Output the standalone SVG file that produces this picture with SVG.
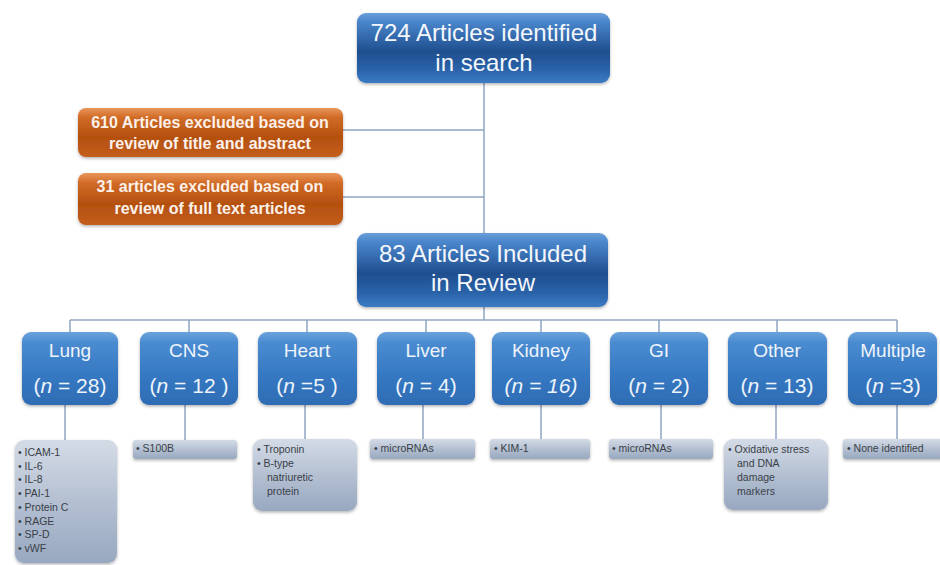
<svg xmlns="http://www.w3.org/2000/svg" width="940" height="565" viewBox="0 0 940 565">
<defs>
<linearGradient id="gMain" x1="0" y1="0" x2="0" y2="1">
<stop offset="0" stop-color="#6a9fd8"/>
<stop offset="0.12" stop-color="#4a86cc"/>
<stop offset="0.55" stop-color="#1f4f8f"/>
<stop offset="0.8" stop-color="#2a62a8"/>
<stop offset="1" stop-color="#3b7bc4"/>
</linearGradient>
<linearGradient id="gCat" x1="0" y1="0" x2="0" y2="1">
<stop offset="0" stop-color="#6aa3dc"/>
<stop offset="0.15" stop-color="#4a8bd0"/>
<stop offset="0.6" stop-color="#3578c2"/>
<stop offset="1" stop-color="#2e6cb4"/>
</linearGradient>
<linearGradient id="gOr" x1="0" y1="0" x2="0" y2="1">
<stop offset="0" stop-color="#e9955a"/>
<stop offset="0.2" stop-color="#d06a25"/>
<stop offset="0.6" stop-color="#b4500f"/>
<stop offset="1" stop-color="#c45e1c"/>
</linearGradient>
<linearGradient id="gDet" x1="0" y1="0" x2="0" y2="1">
<stop offset="0" stop-color="#d4dbe6"/>
<stop offset="0.5" stop-color="#b4c0d2"/>
<stop offset="1" stop-color="#98a8c0"/>
</linearGradient>
<filter id="sh" x="-10%" y="-10%" width="120%" height="130%">
<feDropShadow dx="0" dy="1.5" stdDeviation="1.5" flood-color="#000" flood-opacity="0.3"/>
</filter>
</defs>
<style>
.main{fill:url(#gMain);filter:url(#sh)}
.cat{fill:url(#gCat);filter:url(#sh)}
.or{fill:url(#gOr);filter:url(#sh)}
.det{fill:url(#gDet);filter:url(#sh)}
.conn line{stroke:#8fa5c2;stroke-width:1.5}
text{font-family:"Liberation Sans",Arial,sans-serif}
.tm{fill:#f4f7fb;font-size:24px;text-anchor:middle}
.to{fill:#fbf1ea;font-size:16px;font-weight:bold;text-anchor:middle}
.tc{fill:#eef4fb;font-size:19px;text-anchor:middle}
.tn{fill:#eef4fb;font-size:21px;text-anchor:middle}
.td{fill:#3a3f48;font-size:10.5px}
</style>
<rect width="940" height="565" fill="#ffffff"/>
<g id="connectors" class="conn">
<line x1="484" y1="83" x2="484" y2="233"/>
<line x1="343" y1="130" x2="484" y2="130"/>
<line x1="343" y1="197" x2="484" y2="197"/>
<line x1="484" y1="307" x2="484" y2="320"/>
<line x1="70" y1="320" x2="897" y2="320"/>
<line x1="70" y1="320" x2="70" y2="332"/>
<line x1="189" y1="320" x2="189" y2="332"/>
<line x1="307" y1="320" x2="307" y2="332"/>
<line x1="426" y1="320" x2="426" y2="332"/>
<line x1="541" y1="320" x2="541" y2="332"/>
<line x1="659" y1="320" x2="659" y2="332"/>
<line x1="777" y1="320" x2="777" y2="332"/>
<line x1="897" y1="320" x2="897" y2="332"/>
<line x1="65" y1="405" x2="65" y2="440"/>
<line x1="185" y1="405" x2="185" y2="440"/>
<line x1="305" y1="405" x2="305" y2="439"/>
<line x1="423" y1="405" x2="423" y2="439"/>
<line x1="541" y1="405" x2="541" y2="439"/>
<line x1="661" y1="405" x2="661" y2="439"/>
<line x1="776" y1="405" x2="776" y2="439"/>
<line x1="897" y1="405" x2="897" y2="439"/>
</g>
<g id="n724">
<rect class="main" x="357" y="13" width="253" height="70" rx="9"/>
<text class="tm" x="484" y="41">724 Articles identified</text>
<text class="tm" x="484" y="71">in search</text>
</g>
<g id="ex610">
<rect class="or" x="78" y="108" width="265" height="49" rx="8"/>
<text class="to" x="210" y="128">610 Articles excluded based on</text>
<text class="to" x="210" y="149">review of title and abstract</text>
</g>
<g id="ex31">
<rect class="or" x="78" y="173" width="265" height="52" rx="8"/>
<text class="to" x="210" y="192">31 articles excluded based on</text>
<text class="to" x="210" y="214">review of full text articles</text>
</g>
<g id="n83">
<rect class="main" x="357" y="233" width="251" height="74" rx="9"/>
<text class="tm" x="483" y="262">83 Articles Included</text>
<text class="tm" x="483" y="291">in Review</text>
</g>
<g id="lung">
<rect class="cat" x="22" y="332" width="96" height="73" rx="9"/>
<text class="tc" x="70" y="357">Lung</text>
<text class="tn" x="70" y="393">(<tspan font-style="italic">n</tspan> = 28)</text>
</g>
<g id="cns">
<rect class="cat" x="140" y="332" width="98" height="73" rx="9"/>
<text class="tc" x="189" y="357">CNS</text>
<text class="tn" x="189" y="393">(<tspan font-style="italic">n</tspan> = 12 )</text>
</g>
<g id="heart">
<rect class="cat" x="258" y="332" width="99" height="73" rx="9"/>
<text class="tc" x="307" y="357">Heart</text>
<text class="tn" x="307" y="393">(<tspan font-style="italic">n</tspan> =5 )</text>
</g>
<g id="liver">
<rect class="cat" x="377" y="332" width="98" height="73" rx="9"/>
<text class="tc" x="426" y="357">Liver</text>
<text class="tn" x="426" y="393">(<tspan font-style="italic">n</tspan> = 4)</text>
</g>
<g id="kidney">
<rect class="cat" x="492" y="332" width="98" height="73" rx="9"/>
<text class="tc" x="541" y="357">Kidney</text>
<text class="tn" x="541" y="393" font-style="italic">(n = 16)</text>
</g>
<g id="gi">
<rect class="cat" x="610" y="332" width="98" height="73" rx="9"/>
<text class="tc" x="659" y="357">GI</text>
<text class="tn" x="659" y="393">(<tspan font-style="italic">n</tspan> = 2)</text>
</g>
<g id="other">
<rect class="cat" x="728" y="332" width="99" height="73" rx="9"/>
<text class="tc" x="777" y="357">Other</text>
<text class="tn" x="777" y="393">(<tspan font-style="italic">n</tspan> = 13)</text>
</g>
<g id="multiple">
<rect class="cat" x="848" y="332" width="89" height="73" rx="9"/>
<text class="tc" x="893" y="357">Multiple</text>
<text class="tn" x="893" y="393">(<tspan font-style="italic">n</tspan> =3)</text>
</g>
<g id="d-lung">
<rect class="det" x="15" y="440" width="102" height="123" rx="9"/>
<text class="td" x="18" y="456">•  ICAM-1</text>
<text class="td" x="18" y="470">•  IL-6</text>
<text class="td" x="18" y="483">•  IL-8</text>
<text class="td" x="18" y="497">•  PAI-1</text>
<text class="td" x="18" y="511">•  Protein C</text>
<text class="td" x="18" y="525">•   RAGE</text>
<text class="td" x="18" y="538">•  SP-D</text>
<text class="td" x="18" y="552">•  vWF</text>
</g>
<g id="d-cns">
<rect class="det" x="133" y="440" width="104" height="19" rx="3"/>
<text class="td" x="136" y="452">•  S100B</text>
</g>
<g id="d-heart">
<rect class="det" x="253" y="439" width="104" height="72" rx="9"/>
<text class="td" x="257" y="453">•  Troponin</text>
<text class="td" x="257" y="467">•  B-type</text>
<text class="td" x="267" y="481">natriuretic</text>
<text class="td" x="267" y="495">protein</text>
</g>
<g id="d-liver">
<rect class="det" x="370" y="439" width="105" height="20" rx="3"/>
<text class="td" x="374" y="452">•  microRNAs</text>
</g>
<g id="d-kidney">
<rect class="det" x="490" y="439" width="100" height="20" rx="3"/>
<text class="td" x="494" y="452">•  KIM-1</text>
</g>
<g id="d-gi">
<rect class="det" x="609" y="439" width="104" height="20" rx="3"/>
<text class="td" x="612" y="452">•  microRNAs</text>
</g>
<g id="d-other">
<rect class="det" x="724" y="439" width="104" height="71" rx="9"/>
<text class="td" x="728" y="453">•  Oxidative stress</text>
<text class="td" x="737" y="467">and DNA</text>
<text class="td" x="737" y="481">damage</text>
<text class="td" x="737" y="495">markers</text>
</g>
<g id="d-multiple">
<rect class="det" x="843" y="439" width="100" height="20" rx="3"/>
<text class="td" x="847" y="452">•  None identified</text>
</g>
</svg>
